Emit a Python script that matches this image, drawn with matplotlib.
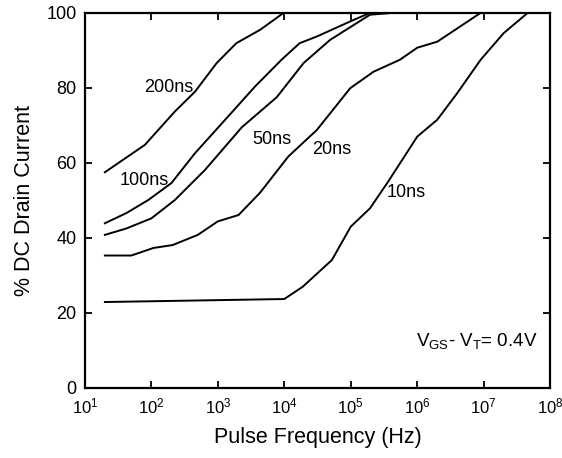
import matplotlib
matplotlib.use("Agg")
import matplotlib.pyplot as plt
from matplotlib.ticker import LogLocator, NullLocator

plt.rcParams['font.family'] = ['Liberation Sans', 'DejaVu Sans']
plt.rcParams['mathtext.fontset'] = 'custom'
plt.rcParams['mathtext.rm'] = 'Liberation Sans'
plt.rcParams['mathtext.it'] = 'Liberation Sans'

# curves (frequency in Hz, % of DC drain current)
f_200 = [20, 80, 226, 455, 960, 1900, 4350, 9800]
i_200 = [57.5, 64.8, 73.7, 79, 86.6, 91.9, 95.5, 100]

f_100 = [20, 42, 90, 200, 455, 1450, 3650, 9100, 17000, 31000, 98000, 195000]
i_100 = [43.9, 46.6, 50.1, 54.6, 62.6, 72.5, 80.4, 87.5, 91.9, 93.7, 97.7, 100]

f_50 = [20, 42, 100, 226, 640, 2300, 7700, 19500, 49000, 195000, 440000]
i_50 = [40.8, 42.5, 45.2, 50.1, 58.1, 69.5, 77.5, 86.6, 92.8, 99.5, 100]

f_20 = [20, 50, 107, 210, 500, 1000, 2050, 4300, 11500, 31000, 98000,
        220000, 550000, 1e6, 2e6, 9e6]
i_20 = [35.3, 35.3, 37.3, 38.1, 40.8, 44.4, 46.1, 52, 61.7, 68.8, 79.9,
        84.3, 87.5, 90.7, 92.3, 100]

f_10 = [20, 10000, 19000, 52000, 1e5, 195000, 365000, 1e6, 2e6, 4e6,
        9e6, 2e7, 4.6e7]
i_10 = [22.9, 23.7, 27, 34.1, 43, 47.9, 55, 67, 71.5, 78.6, 87.5, 94.6, 100]

labels = ['200ns', '100ns', '50ns', '20ns', '10ns']
label_f = [184, 79, 6500, 51000, 675000]
label_i = [80, 55.2, 66.1, 63.5, 52]

fig = plt.figure(figsize=(5.62, 4.58), dpi=100)
ax = fig.add_axes([0.151, 0.153, 0.828, 0.819])

for f, i in [(f_200, i_200), (f_100, i_100), (f_50, i_50), (f_20, i_20), (f_10, i_10)]:
    ax.plot(f, i, color='black', lw=1.4)

for t, x, y in zip(labels, label_f, label_i):
    ax.text(x, y, t, fontsize=13, ha='center', va='center')

ax.text(0.95e6, 12.5, r'V$_{\mathrm{GS}}$- V$_{\mathrm{T}}$= 0.4V', fontsize=13.5,
        ha='left', va='center')

ax.set_xscale('log')
ax.set_xlim(10, 1e8)
ax.set_ylim(0, 100)
ax.set_yticks([0, 20, 40, 60, 80, 100])
ax.xaxis.set_major_locator(LogLocator(base=10, numticks=10))
ax.xaxis.set_minor_locator(NullLocator())
ax.tick_params(direction='in', length=5, width=1.3, labelsize=13,
               top=True, right=True, pad=6)
ax.tick_params(axis='x', labelsize=12)
for s in ax.spines.values():
    s.set_linewidth(1.6)

ax.set_xlabel('Pulse Frequency (Hz)', fontsize=15.5, labelpad=8)
ax.set_ylabel('% DC Drain Current', fontsize=15.5, labelpad=8)

fig.savefig('out.png', dpi=100)
